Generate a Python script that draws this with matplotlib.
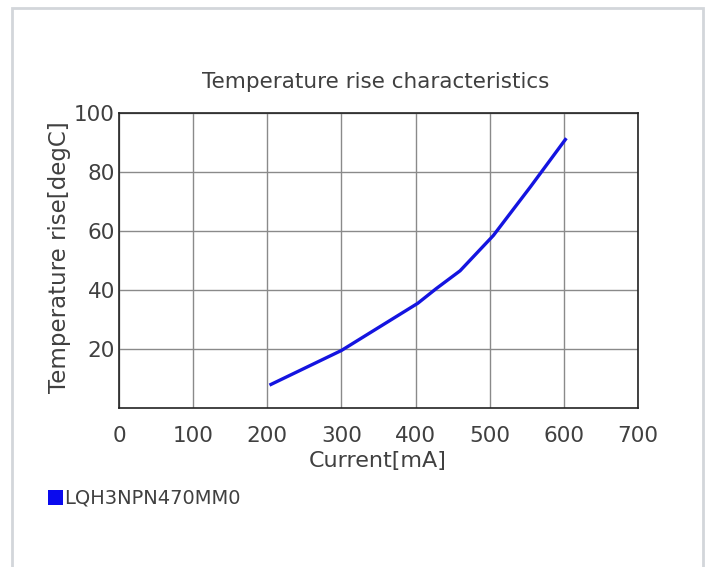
import matplotlib
matplotlib.use("Agg")
import matplotlib.pyplot as plt
from matplotlib.patches import Rectangle

current_mA = [205, 300, 403, 428, 460, 505, 555, 602]
temp_rise = [8.0, 19.5, 35.5, 40.5, 46.5, 58.5, 75.0, 91.0]
x_ticks = [0, 100, 200, 300, 400, 500, 600, 700]
y_ticks = [20, 40, 60, 80, 100]
series_name = "LQH3NPN470MM0"

W, H = 709, 567
fig = plt.figure(figsize=(W / 100, H / 100), dpi=100)
fig.patch.set_facecolor("white")

# outer light border
fig.add_artist(Rectangle((12 / W, -0.01), (703 - 12) / W, (H - 8) / H + 0.01,
                         transform=fig.transFigure, fill=False,
                         edgecolor="#d3d6da", linewidth=2))

left, right, top, bottom = 119, 638, 113, 408
ax = fig.add_axes([left / W, 1 - bottom / H, (right - left) / W, (bottom - top) / H])
ax.plot(current_mA, temp_rise, color="#1414e0", linewidth=2.4, solid_joinstyle="round")
ax.set_xlim(0, 700)
ax.set_ylim(0, 100)
ax.set_xticks(x_ticks)
ax.set_yticks(y_ticks)
ax.grid(True, color="#8a8a8a", linewidth=1)
ax.tick_params(length=0, labelsize=15.5, colors="#404040")
ax.tick_params(axis="x", pad=13)
ax.tick_params(axis="y", pad=3)
for s in ax.spines.values():
    s.set_color("#222222")
    s.set_linewidth(1.2)

ax.set_xlabel("Current[mA]", fontsize=16, color="#404040")
ax.set_ylabel("Temperature rise[degC]", fontsize=16.5, color="#404040")
ax.xaxis.label.set_va("center")
ax.yaxis.label.set_va("center")
ax.xaxis.set_label_coords((378 - left) / (right - left), (bottom - 461) / (bottom - top))
ax.yaxis.set_label_coords((60 - left) / (right - left), 0.51)

fig.text(376 / W, 1 - 82 / H, "Temperature rise characteristics", fontsize=15.5,
         color="#404040", ha="center", va="center")

# legend
fig.add_artist(Rectangle((48 / W, 1 - 505 / H), 15 / W, 15 / H,
                         transform=fig.transFigure, facecolor="#0a0aee", edgecolor="none"))
fig.text(64 / W, 1 - 498 / H, series_name, fontsize=14, color="#404040",
         ha="left", va="center")

fig.savefig("out.png", dpi=100)
